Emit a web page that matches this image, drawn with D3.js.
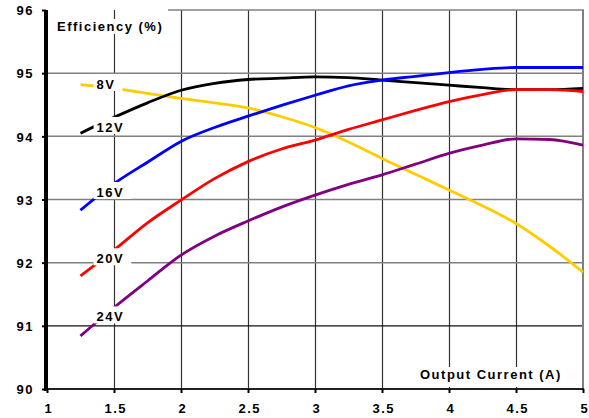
<!DOCTYPE html>
<html>
<head>
<meta charset="utf-8">
<script src="https://cdn.jsdelivr.net/npm/d3@7"></script>
<style>
  body { margin: 0; background: #fff; }
  svg text { font-family: "Liberation Sans", Arial, sans-serif; font-weight: bold; font-size: 13px; letter-spacing: 1.5px; fill: #000; }
</style>
</head>
<body>
<script>
// output current (A), shared by all curves
var current = [1.25, 1.5, 1.75, 2, 2.25, 2.5, 2.75, 3, 3.25, 3.5, 3.75, 4, 4.25, 4.5, 4.75, 5];

// efficiency (%) per input voltage
var eff8V  = [94.82, 94.76, 94.68, 94.60, 94.53, 94.45, 94.31, 94.14, 93.91, 93.65, 93.40, 93.15, 92.90, 92.62, 92.26, 91.85];
var eff12V = [94.05, 94.30, 94.53, 94.73, 94.84, 94.90, 94.92, 94.94, 94.93, 94.89, 94.85, 94.81, 94.77, 94.74, 94.74, 94.76];
var eff16V = [92.83, 93.25, 93.59, 93.92, 94.14, 94.32, 94.49, 94.65, 94.80, 94.89, 94.95, 95.01, 95.06, 95.09, 95.09, 95.09];
var eff20V = [91.79, 92.20, 92.63, 92.99, 93.33, 93.60, 93.80, 93.94, 94.11, 94.26, 94.41, 94.55, 94.66, 94.74, 94.74, 94.71];
var eff24V = [90.84, 91.29, 91.71, 92.12, 92.42, 92.66, 92.88, 93.07, 93.24, 93.39, 93.56, 93.73, 93.86, 93.96, 93.95, 93.86];

var seriesNames = ["8V", "12V", "16V", "20V", "24V"];
var seriesValues = [eff8V, eff12V, eff16V, eff20V, eff24V];
var colors = ["#ffcc00", "#000000", "#0000ff", "#ff0000", "#800080"];

var xTicks = [1, 1.5, 2, 2.5, 3, 3.5, 4, 4.5, 5];
var yTicks = [90, 91, 92, 93, 94, 95, 96];

// where the curve labels sit (x, y in chart units)
var labelX = 1.37;
var labelY = [94.75, 94.07, 93.04, 91.99, 91.07];

const width = 589, height = 418;
const x = d3.scaleLinear().domain([1, 5]).range([47, 583]);
const y = d3.scaleLinear().domain([90, 96]).range([389, 10]);

var svg = d3.select("body").append("svg").attr("width", width).attr("height", height);

// grid
svg.append("g").selectAll("line").data(xTicks.slice(1, -1)).enter().append("line")
  .attr("x1", d => Math.round(x(d)) + 0.5).attr("x2", d => Math.round(x(d)) + 0.5)
  .attr("y1", y(96)).attr("y2", y(90))
  .attr("stroke", "#333").attr("stroke-width", 1.2);
svg.append("g").selectAll("line").data(yTicks.slice(1, -1)).enter().append("line")
  .attr("x1", x(1)).attr("x2", x(5))
  .attr("y1", d => y(d)).attr("y2", d => y(d))
  .attr("stroke", d => d === 91 ? "#111" : "#808080").attr("stroke-width", d => d === 91 ? 1.2 : 1.5);

// frame top / right
svg.append("line").attr("x1", 168).attr("x2", x(5) + 1).attr("y1", y(96)).attr("y2", y(96))
  .attr("stroke", "#808080").attr("stroke-width", 1.5);
svg.append("line").attr("x1", x(5)).attr("x2", x(5)).attr("y1", y(96)).attr("y2", y(90))
  .attr("stroke", "#808080").attr("stroke-width", 2);

// curves
var line = d3.line().x((d, i) => x(current[i])).y(d => y(d)).curve(d3.curveMonotoneX);
svg.append("g").selectAll("path").data(seriesValues).enter().append("path")
  .attr("d", d => line(d))
  .attr("fill", "none")
  .attr("stroke", (d, i) => colors[i])
  .attr("stroke-width", 2.8)
  .attr("stroke-linejoin", "round");

// axes
var yAxis = d3.axisLeft(y).tickValues(yTicks).tickSize(4).tickPadding(8).tickFormat(d => String(d));
var gy = svg.append("g").attr("transform", "translate(46,0)").call(yAxis);
gy.select(".domain").remove();
gy.selectAll(".tick line").attr("stroke", "#000").attr("stroke-width", 2);
gy.selectAll("text").attr("font-size", null).attr("font-family", null).attr("dy", "0.36em");

var xAxis = d3.axisBottom(x).tickValues(xTicks).tickSize(4).tickPadding(11).tickFormat(d => String(d));
var gx = svg.append("g").attr("transform", "translate(0," + y(90) + ")").call(xAxis);
gx.select(".domain").attr("stroke", "#222").attr("stroke-width", 2).attr("d", "M" + x(1) + ",0H" + (x(5) + 1));
gx.selectAll(".tick line").attr("stroke", "#000").attr("stroke-width", 2);
gx.selectAll("text").attr("font-size", null).attr("font-family", null).attr("dx", "0.1em");

svg.append("line").attr("x1", 46).attr("x2", 46).attr("y1", y(96)).attr("y2", y(90) + 2)
  .attr("stroke", "#000").attr("stroke-width", 4);

// curve labels on white boxes
seriesNames.forEach(function (name, i) {
  var g = svg.append("g");
  var bg = g.append("rect").attr("fill", "#fff");
  var t = g.append("text").attr("x", x(labelX)).attr("y", y(labelY[i])).text(name);
  var bb = t.node().getBBox();
  bg.attr("x", bb.x - 3).attr("y", y(labelY[i]) - 15)
    .attr("width", bb.width + 10).attr("height", 17);
});

// axis titles
var tTitle = svg.append("g");
var tb = tTitle.append("rect").attr("fill", "#fff");
var tt = tTitle.append("text").attr("x", 57).attr("y", 31).text("Efficiency (%)");
var b1 = tt.node().getBBox();
tb.attr("x", b1.x - 3).attr("y", 19).attr("width", b1.width + 6).attr("height", 15);

var xTitle = svg.append("g");
var xb = xTitle.append("rect").attr("fill", "#fff");
var xt = xTitle.append("text").attr("x", 420).attr("y", 379).text("Output Current (A)");
var b2 = xt.node().getBBox();
xb.attr("x", b2.x - 4).attr("y", 367).attr("width", b2.width + 6).attr("height", 20);
</script>
</body>
</html>
